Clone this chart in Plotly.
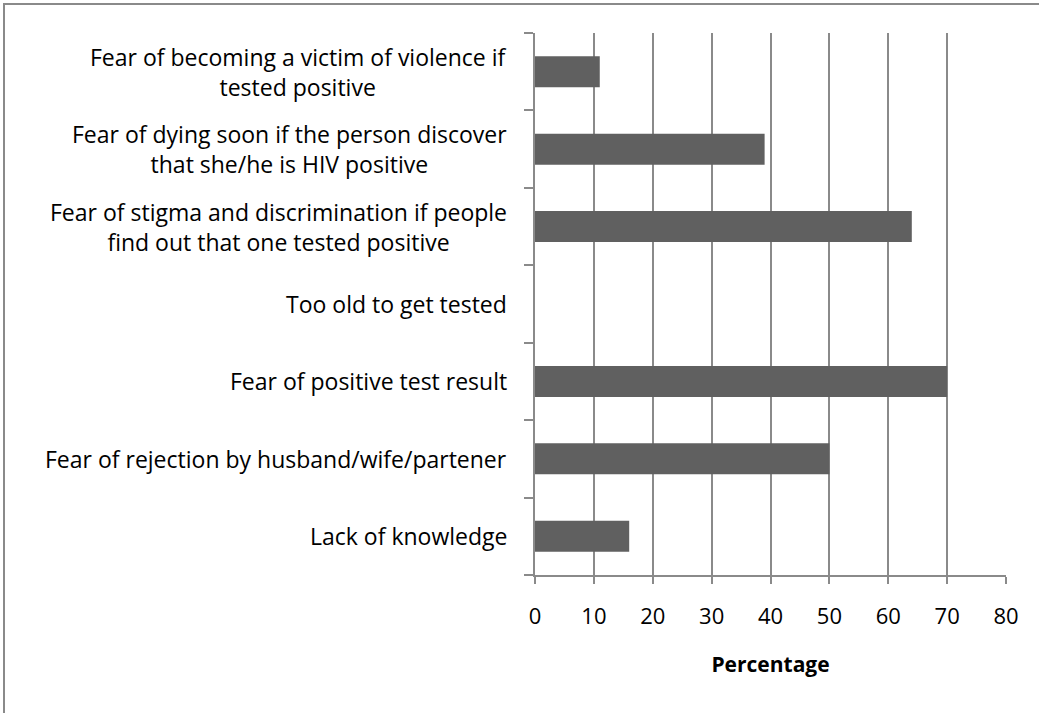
import plotly.graph_objects as go

categories = [
    "Lack of knowledge",
    "Fear of rejection by husband/wife/partener",
    "Fear of positive test result",
    "Too old to get tested",
    "Fear of stigma and discrimination if people<br>find out that one tested positive",
    "Fear of dying soon if the person discover<br>that she/he is HIV positive",
    "Fear of becoming a victim of violence if<br>tested positive",
]
values = [16, 50, 70, 0, 64, 39, 11]
x_ticks = [0, 10, 20, 30, 40, 50, 60, 70, 80]

W, H = 1039, 713
L, R, T, B = 535, 33, 33, 138
FONT = "Open Sans"
GRAY = "#8a8a8a"

fig = go.Figure()
fig.add_trace(go.Bar(
    y=categories, x=values, orientation="h",
    marker=dict(color="#606060", line=dict(width=0)),
    width=0.4,
))

for c in categories:
    fig.add_annotation(
        x=0, xref="paper", y=c, yref="y", xanchor="right", yanchor="middle",
        xshift=-26, text=c, showarrow=False, align="center",
        font=dict(family=FONT, size=23, color="#000000"),
    )

pw = W - L - R
ph = H - T - B
fig.add_shape(
    type="path", xref="paper", yref="paper",
    path=f"M {(4 - L) / pw} {-(H + 10 - (H - B)) / ph} L {(4 - L) / pw} {(H - B - 4) / ph} L {(W + 10 - L) / pw} {(H - B - 4) / ph}",
    line=dict(color=GRAY, width=2),
)

fig.update_layout(
    width=W, height=H,
    margin=dict(l=L, r=R, t=T, b=B, pad=0),
    paper_bgcolor="white", plot_bgcolor="white",
    showlegend=False,
    font=dict(family=FONT, size=22, color="#000000"),
    xaxis=dict(
        range=[0, 80], tickvals=x_ticks, showgrid=True, gridcolor=GRAY, gridwidth=1.5,
        zeroline=False, showline=True, linecolor=GRAY, linewidth=1.5,
        ticks="outside", ticklen=7, tickcolor=GRAY, tickwidth=1.5,
        ticklabelstandoff=14,
        tickfont=dict(family=FONT, size=22),
        title=dict(text="<b>Percentage</b>", font=dict(family=FONT, size=21), standoff=28),
    ),
    yaxis=dict(
        categoryorder="array", categoryarray=categories,
        showticklabels=False, showgrid=False, zeroline=False,
        showline=True, linecolor=GRAY, linewidth=1.5,
        ticks="outside", ticklen=9, tickcolor=GRAY, tickwidth=1.5,
        tickson="boundaries",
    ),
)

fig.write_html(
    "out.html",
    config={"displayModeBar": False},
    post_script="document.body.style.margin='0';",
)
